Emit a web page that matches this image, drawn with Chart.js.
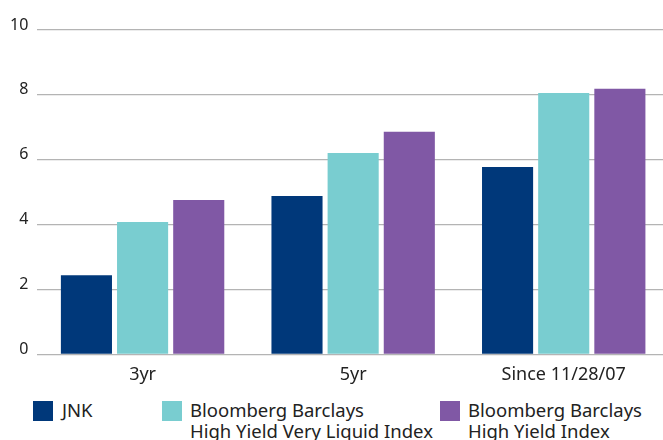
<!DOCTYPE html>
<html>
<head>
<meta charset="utf-8">
<script src="https://cdn.jsdelivr.net/npm/chart.js@4/dist/chart.umd.min.js"></script>
<style>
  html, body { margin: 0; padding: 0; background: #fff; overflow: hidden; }
  #wrap { position: relative; width: 663px; height: 440px; overflow: hidden; font-family: "Noto Sans", sans-serif; }
  #chart { position: absolute; left: 0; top: 0; }
  .leg { position: absolute; top: 401px; font-size: 18.5px; line-height: 21px; color: #222; }
  .leg span.box { position: absolute; left: 0; top: 0; width: 20px; height: 20px; }
  .leg div.txt { position: absolute; top: -2px; white-space: nowrap; }
</style>
</head>
<body>
<div id="wrap">
  <canvas id="chart" width="669" height="396"></canvas>
  <div id="legend"></div>
</div>
<script>
const categories = ["3yr", "5yr", "Since 11/28/07"];
const jnk = [2.44, 4.88, 5.78];
const veryLiquid = [4.08, 6.21, 8.06];
const highYield = [4.76, 6.86, 8.19];
const yTicks = [0, 2, 4, 6, 8, 10];

const seriesNames = [
  ["JNK"],
  ["Bloomberg Barclays", "High Yield Very Liquid Index"],
  ["Bloomberg Barclays", "High Yield Index"],
];
const colors = ["#00387a", "#79cdd0", "#8058a5"];

const ctx = document.getElementById("chart").getContext("2d");
const chart = new Chart(ctx, {
  type: "bar",
  data: {
    labels: categories,
    datasets: [jnk, veryLiquid, highYield].map((d, i) => ({
      label: seriesNames[i].join(" "),
      data: d,
      backgroundColor: colors[i],
      borderWidth: 0,
      categoryPercentage: 0.8,
      barPercentage: 0.91,
    })),
  },
  options: {
    responsive: false,
    animation: false,
    layout: { padding: { left: 1, right: 0, top: 30, bottom: 0 } },
    plugins: {
      legend: { display: false },
      tooltip: { enabled: false },
    },
    scales: {
      x: {
        grid: { display: false, drawTicks: false },
        border: { display: false },
        ticks: {
          color: "#222",
          padding: 10,
          font: { family: "Noto Sans", size: 18 },
        },
      },
      y: {
        min: 0,
        max: 10,
        afterBuildTicks: (axis) => {
          axis.ticks = yTicks.map((v) => ({ value: v }));
        },
        grid: { color: "#b4b4b4", lineWidth: 1.3, drawTicks: false },
        border: { display: false },
        ticks: {
          color: "#222",
          padding: 9,
          labelOffset: -5,
          font: { family: "Noto Sans", size: 16 },
        },
      },
    },
  },
});

// html legend built from the datasets
const legendLeft = [33, 162, 440];
const legend = document.getElementById("legend");
chart.data.datasets.forEach((ds, i) => {
  const item = document.createElement("div");
  item.className = "leg";
  item.style.left = legendLeft[i] + "px";
  const box = document.createElement("span");
  box.className = "box";
  box.style.background = ds.backgroundColor;
  const txt = document.createElement("div");
  txt.className = "txt";
  txt.style.left = (i === 0 ? 29 : 28) + "px";
  txt.innerHTML = seriesNames[i].join("<br>");
  item.appendChild(box);
  item.appendChild(txt);
  legend.appendChild(item);
});
</script>
</body>
</html>
